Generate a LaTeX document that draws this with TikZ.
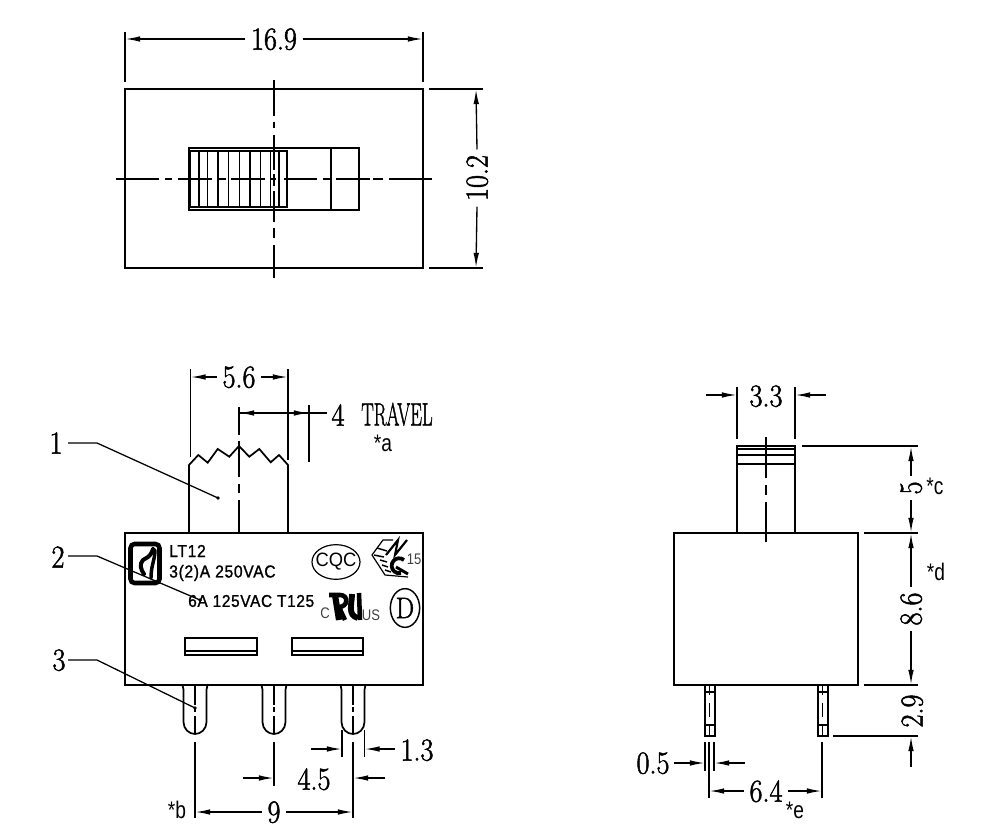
\documentclass[tikz,border=0pt]{standalone}
\usepackage{fontspec}
\usetikzlibrary{arrows.meta,shapes.geometric}
\newfontfamily\lblsans[FakeBold=1.2,LetterSpace=4,FakeStretch=0.9]{Liberation Sans}
\newfontfamily\notesans{Liberation Sans}
\newfontfamily\dimserif[FakeBold=1.6,FakeStretch=0.88]{Latin Modern Roman}
\newcommand{\dimfont}{\dimserif\fontsize{24}{24}\selectfont}
\tikzset{
  x=0.75pt,y=-0.75pt,
  partline/.style={line width=1.3pt,line join=miter},
  thinpart/.style={line width=1pt},
  extline/.style={line width=1pt},
  axisline/.style={line width=1pt},
  dimarrow/.style={line width=1pt,-{Latex[length=11pt,width=4.2pt]}},
  leaderline/.style={line width=0.95pt},
  dimtext/.style={font=\dimfont,inner sep=4pt,text depth=0pt},
  notetext/.style={font=\notesans\fontsize{18}{18}\selectfont,inner sep=0pt,xscale=0.8},
  marktext/.style={font=\lblsans\fontsize{13}{13}\selectfont,inner sep=0pt,anchor=west},
  tagtext/.style={font=\notesans\fontsize{11.5}{11.5}\selectfont,inner sep=0pt,text=black!75,xscale=0.85},
}
\begin{document}
\begin{tikzpicture}
\useasboundingbox (0,0) rectangle (1000,832);
% ---------- top view
\draw[partline] (125,89) rectangle (423,268);
\draw[partline] (189,148) rectangle (359,210);
\draw[partline] (331,148) -- (331,210);
\draw[partline] (190,151) rectangle (287,207);
\foreach \r in {199,207.3,218,228.7,239.3,250,260.7,270.7,279}
  \draw[thinpart] (\r,151) -- (\r,207);
\foreach \a/\b in {116/159,165/172,178/212,218/226,231/265,271/276,284/317,323/331,336/370,373/383,389/432}
  \draw[axisline] (\a,179) -- (\b,179);
\foreach \a/\b in {80/116,122/128,135/170,174/186,191/222,228/238,245/278}
  \draw[axisline] (274,\a) -- (274,\b);
% dims top
\draw[extline] (125,32) -- (125,82);
\draw[extline] (423,32) -- (423,82);
\node[dimtext] (d169) at (274,39) {16.9};
\draw[dimarrow] (d169.west) -- (125.5,39);
\draw[dimarrow] (d169.east) -- (422.5,39);
\draw[extline] (429,89) -- (483,89);
\draw[extline] (429,268) -- (483,268);
\node[dimtext,rotate=90] (d102) at (477,178) {10.2};
\draw[dimarrow] (d102.east) -- (476,89.5);
\draw[dimarrow] (d102.west) -- (476,267.5);
% ---------- front view
\draw[partline] (125,533) rectangle (423,685);
\draw[partline] (189,533) -- (189,465) -- (198.3,455) -- (207.7,462.7) -- (217.7,449) -- (229.3,456.7) -- (239,446) -- (249.3,456.7) -- (259.3,449) -- (270.7,462.3) -- (279,455) -- (288,465) -- (288,533);
\foreach \a/\b in {407/435,441/477,484/493,500/533}
  \draw[axisline] (239,\a) -- (239,\b);
\draw[extline] (190.5,369) -- (190.5,457);
\draw[extline] (288,369) -- (288,460);
\node[dimtext] (d56) at (239,377) {5.6};
\draw[dimarrow] (d56.west) -- (191,377);
\draw[dimarrow] (d56.east) -- (287.5,377);
\draw[extline] (309,405) -- (309,462);
\coordinate (trv) at (327,413);
\draw[dimarrow] (trv) -- (239.5,413);
\draw[dimarrow] (239,413) -- (308.5,413);
\node[dimtext,inner sep=0pt] (d4) at (338,415) {4};
\node[dimtext,inner sep=0pt,xscale=0.66] (dtr) at (397,414) {TRAVEL};
\node[notetext] (ta) at (383,443) {*a};
% pins
\foreach \c in {195,274,353}{
  \draw[partline] ({\c-12.5},685) .. controls ({\c-11.5},688) and ({\c-11.5},690) .. ({\c-11.5},694) -- ({\c-11.5},722)
    .. controls ({\c-11.5},729) and ({\c-6},734) .. (\c,734)
    .. controls ({\c+6},734) and ({\c+11.5},729) .. ({\c+11.5},722) -- ({\c+11.5},694)
    .. controls ({\c+11.5},690) and ({\c+11.5},688) .. ({\c+12.5},685);
  \foreach \a/\b in {685/705,707/712,716/734}
    \draw[axisline] (\c,\a) -- (\c,\b);
}
% windows
\foreach \l/\r in {185/257,292/363}{
  \draw[line width=1.7pt] (\l,638) rectangle (\r,655);
  \draw[thinpart] (\l,651) -- (\r,651);
}
% markings
\node[marktext] (m1) at (169,551) {LT12};
\node[marktext] (m2) at (169,573) {3(2)A 250VAC};
\node[marktext,font=\lblsans\fontsize{12.8}{12.8}\selectfont] (m3) at (188,601) {6A 125VAC T125};
% logo
\draw[line width=3.4pt,rounded corners=3pt] (130.5,544) rectangle (159.5,583);
\draw[line width=3pt,line cap=round] (153,549) .. controls (150,558) and (147,557) .. (143,560) .. controls (139,564) and (141,570) .. (144,574);
\draw[line width=2.6pt,line cap=round] (155,550) .. controls (155,560) and (151,565) .. (151,578);
% CQC
\node[draw,ellipse,line width=0.9pt,minimum width=36pt,minimum height=26pt,inner sep=0pt] (cqc) at (336,562) {};
\node[inner sep=0pt,font=\notesans\fontsize{14.5}{14.5}\selectfont,xscale=0.95] (cqct) at (336,562) {CQC};
% EN mark
\draw[line width=0.9pt] (393,540) -- (383,540) -- (372,555) -- (385,575) -- (408,577);
\draw[line width=1.1pt] (377,548) -- (387,551) (374,555) -- (384,557) (380,560) -- (387,562) (382,565) -- (388,567) (385,570) -- (391,572);
\draw[line width=1.6pt] (386,555) -- (398,540) -- (395,555) -- (407,540);
\draw[line width=2.8pt] (404,560) arc[start angle=-50,end angle=-285,radius=7.5];
\draw[line width=2.2pt] (396,567) -- (408,574);
\node[tagtext] (n15) at (414,559) {15};
% UR
\draw[line width=4.6pt] (335,595) -- (339,620);
\draw[line width=3.4pt] (329,595) -- (340,595) .. controls (349,595) and (348,607) .. (339,607) -- (345,620);
\draw[line width=4.4pt] (352,594) .. controls (352,604) and (347,615) .. (358,618);
\draw[line width=3.4pt] (359,593) -- (360,620);
\node[tagtext] (tc) at (325,613) {C};
\node[tagtext] (tus) at (371,615) {US};
% D
\node[draw,ellipse,line width=1.1pt,minimum width=22pt,minimum height=29pt,inner sep=0pt,font=\dimserif\fontsize{22}{22}\selectfont] (dmark) at (405,608) {D};
% leaders
\node[dimtext,inner sep=0pt] (l1) at (56,443) {1};
\node[dimtext,inner sep=0pt] (l2) at (58,557) {2};
\node[dimtext,inner sep=0pt] (l3) at (59,660) {3};
\coordinate (p1) at (218,498);
\coordinate (p2) at (200,600);
\coordinate (p3) at (195,708);
\draw[leaderline] (68,443) -- (97,443) -- (p1);
\draw[leaderline] (68,556) -- (97,556) -- (p2);
\draw[leaderline] (68,660) -- (97,660) -- (p3);
\foreach \p in {p1,p2,p3} \fill (\p) circle (1.8);
% bottom dims
\draw[extline] (195,742) -- (195,818);
\draw[extline] (274,742) -- (274,786);
\draw[extline] (353,742) -- (353,818);
\node[dimtext] (d9) at (274,812) {9};
\draw[dimarrow] (d9.west) -- (195.5,812);
\draw[dimarrow] (d9.east) -- (352.5,812);
\node[dimtext,inner sep=0pt] (d45) at (314,779) {4.5};
\coordinate (a45l) at (243,778);
\coordinate (a45r) at (385,778);
\draw[dimarrow] (a45l) -- (273.5,778);
\draw[dimarrow] (a45r) -- (353.5,778);
\draw[extline] (342,730) -- (342,757);
\draw[extline] (364.5,730) -- (364.5,757);
\coordinate (a13l) at (311,749);
\node[dimtext,inner sep=0pt] (d13) at (417,750) {1.3};
\coordinate (a13r) at (395,749);
\draw[dimarrow] (a13l) -- (341.5,749);
\draw[dimarrow] (a13r) -- (365,749);
\node[notetext] (tb) at (177,810) {*b};
% ---------- side view
\draw[partline] (674,533) rectangle (858,685);
\draw[partline] (737,533) -- (737,446) -- (795,446) -- (795,533);
\foreach \y in {449,455,464} \draw[thinpart] (737,\y) -- (795,\y);
\foreach \a/\b in {437/478,485/495,502/542}
  \draw[axisline] (766,\a) -- (766,\b);
\draw[extline] (737,387) -- (737,439);
\draw[extline] (795,387) -- (795,439);
\node[dimtext,inner sep=0pt] (d33) at (766,396) {3.3};
\coordinate (a33l) at (706,395);
\coordinate (a33r) at (826,395);
\draw[dimarrow] (a33l) -- (736.5,395);
\draw[dimarrow] (a33r) -- (795.5,395);
\draw[extline] (802,446) -- (918,446);
\draw[extline] (864,533) -- (918,533);
\draw[extline] (864,685) -- (918,685);
\draw[extline] (833,736) -- (918,736);
\node[dimtext,rotate=90] (d5) at (911,488) {5};
\draw[dimarrow] (d5.east) -- (911,446.5);
\draw[dimarrow] (d5.west) -- (911,532.5);
\node[notetext] (tc2) at (935,486) {*c};
\node[notetext] (td) at (936,572) {*d};
\node[dimtext,rotate=90] (d86) at (911,609) {8.6};
\draw[dimarrow] (d86.east) -- (911,533.5);
\draw[dimarrow] (d86.west) -- (911,684.5);
\node[dimtext,rotate=90,inner sep=0pt] (d29) at (912,711) {2.9};
\coordinate (a29) at (911,767);
\draw[dimarrow] (a29) -- (911,736.5);
% side pins
\foreach \l in {705,818}{
  \draw[line width=1.5pt] (\l,685) rectangle ({\l+9.5},736);
  \foreach \a/\b in {685/695,703/717,725/736}
    \draw[line width=0.8pt] ({\l+4.75},\a) -- ({\l+4.75},\b);
  \draw[line width=0.8pt] (\l,692) -- ({\l+9.5},692) (\l,725) -- ({\l+9.5},725);
}
\draw[extline] (705,742) -- (705,771);
\draw[extline] (714,742) -- (714,771);
\node[dimtext,inner sep=0pt] (d05) at (653,763) {0.5};
\coordinate (a05l) at (674,763);
\coordinate (a05r) at (745,763);
\draw[dimarrow] (a05l) -- (704.5,763);
\draw[dimarrow] (a05r) -- (714.5,763);
\draw[extline] (709,742) -- (709,798);
\draw[extline] (822,742) -- (822,798);
\node[dimtext] (d64) at (766,791) {6.4};
\draw[dimarrow] (d64.west) -- (709.5,791);
\draw[dimarrow] (d64.east) -- (821.5,791);
\node[notetext] (te) at (795,810) {*e};
\end{tikzpicture}
\end{document}
